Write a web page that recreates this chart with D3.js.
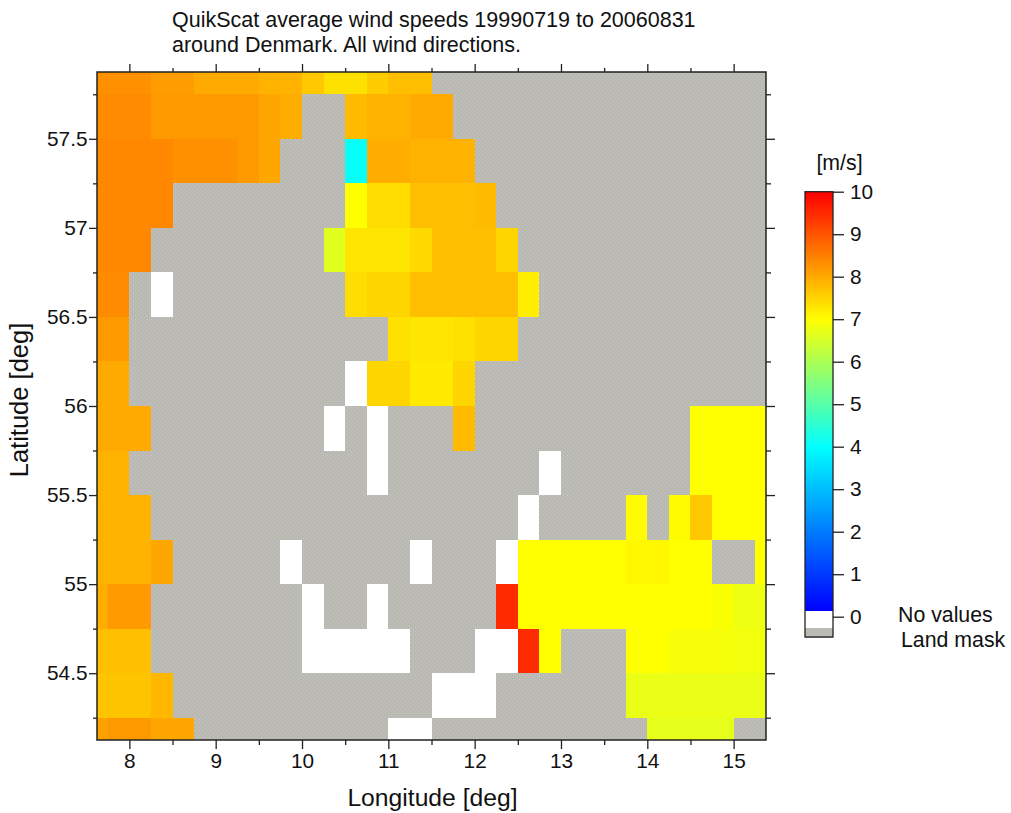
<!DOCTYPE html>
<html>
<head>
<meta charset="utf-8">
<script src="https://cdn.jsdelivr.net/npm/d3@7"></script>
<style>
  html, body { margin: 0; background: #fff; }
  text { font-family: "Liberation Sans", Arial, sans-serif; fill: #111; }
</style>
</head>
<body>
<svg id="chart" width="1011" height="813"></svg>
<script>
// L = land mask, N = no values
const L = -0.4, N = 0;

const titleLines = ['QuikScat average wind speeds 19990719 to 20060831', 'around Denmark. All wind directions.'];
const xTicks = [8, 9, 10, 11, 12, 13, 14, 15];
const yTicks = [54.5, 55, 55.5, 56, 56.5, 57, 57.5];
const barTicks = [0, 1, 2, 3, 4, 5, 6, 7, 8, 9, 10];

// cell centres, first and last ones are cut by the frame
const lons = d3.range(32).map(i => 7.625 + i * 0.25);
const lats = d3.range(16).map(j => 57.875 - j * 0.25);

// wind speed in m/s, north to south
const speeds = [
  [8.3,8.3,8.3,8.15,8.15,8,8,8,7.9,7.9,7.65,7.35,7.35,7.6,7.75,7.75,L,L,L,L,L,L,L,L,L,L,L,L,L,L,L,L],
  [8.35,8.35,8.35,8.2,8.2,8.2,8.2,8.2,8.05,7.95,L,L,7.8,7.9,7.9,8,8,L,L,L,L,L,L,L,L,L,L,L,L,L,L,L],
  [8.4,8.4,8.4,8.4,8.3,8.3,8.3,8.2,8.05,L,L,L,4.1,7.95,7.95,7.9,7.9,7.9,L,L,L,L,L,L,L,L,L,L,L,L,L,L],
  [8.4,8.4,8.4,8.4,L,L,L,L,L,L,L,L,7,7.4,7.4,7.75,7.75,7.75,7.8,L,L,L,L,L,L,L,L,L,L,L,L,L],
  [8.4,8.4,8.4,L,L,L,L,L,L,L,L,6.65,7.3,7.3,7.3,7.45,7.75,7.75,7.75,7.5,L,L,L,L,L,L,L,L,L,L,L,L],
  [8.35,8.35,L,N,L,L,L,L,L,L,L,L,7.4,7.5,7.5,7.75,7.75,7.75,7.75,7.75,7.2,L,L,L,L,L,L,L,L,L,L,L],
  [8.2,8.2,L,L,L,L,L,L,L,L,L,L,L,L,7.35,7.3,7.3,7.35,7.5,7.5,L,L,L,L,L,L,L,L,L,L,L,L],
  [8,8,L,L,L,L,L,L,L,L,L,L,N,7.5,7.5,7.25,7.25,7.5,L,L,L,L,L,L,L,L,L,L,L,L,L,L],
  [8,8,8,L,L,L,L,L,L,L,L,N,L,N,L,L,L,7.8,L,L,L,L,L,L,L,L,L,L,7,7,7,7],
  [7.9,7.9,L,L,L,L,L,L,L,L,L,L,L,N,L,L,L,L,L,L,L,N,L,L,L,L,L,L,7,7,7,7],
  [7.9,7.9,7.9,L,L,L,L,L,L,L,L,L,L,L,L,L,L,L,L,L,N,L,L,L,L,7.05,L,7.05,7.65,7,7,7],
  [7.9,7.9,7.9,8.05,L,L,L,L,L,N,L,L,L,L,L,N,L,L,L,N,7,7,7,7,7,7.1,7.1,7,7,L,L,7],
  [7.95,8.2,8.2,L,L,L,L,L,L,L,N,L,L,N,L,L,L,L,L,9.5,7,7,7,7,7,7,7,7,7,6.95,6.8,6.8],
  [7.75,7.75,7.75,L,L,L,L,L,L,L,N,N,N,N,N,L,L,L,N,N,9.5,7,L,L,L,7,7,6.9,6.9,6.9,6.85,6.85],
  [7.7,7.7,7.7,7.85,L,L,L,L,L,L,L,L,L,L,L,L,N,N,N,L,L,L,L,L,L,6.75,6.75,6.75,6.75,6.75,6.75,6.75],
  [8.1,8.2,8.2,8.05,8.05,L,L,L,L,L,L,L,L,L,N,N,L,L,L,L,L,L,L,L,L,L,6.7,6.7,6.7,6.7,L,L]
];

const svg = d3.select('#chart');
const frame = { left: 97, right: 766, top: 72, bottom: 740 };

// speckled grey of the land mask
const landPattern = svg.append('defs').append('pattern')
  .attr('id', 'land').attr('width', 4).attr('height', 4)
  .attr('patternUnits', 'userSpaceOnUse');
landPattern.append('rect').attr('width', 4).attr('height', 4).attr('fill', '#b9b9b1');
landPattern.append('rect').attr('x', 1).attr('y', 1).attr('width', 1).attr('height', 1).attr('fill', '#c8c8d0');
landPattern.append('rect').attr('x', 3).attr('y', 3).attr('width', 1).attr('height', 1).attr('fill', '#c8c8d0');

const x = d3.scaleLinear().domain([7.625, 15.375]).range([frame.left, frame.right]).clamp(true);
const y = d3.scaleLinear().domain([54.125, 57.875]).range([frame.bottom, frame.top]).clamp(true);

const color = d3.scaleLinear()
  .domain([0.15, 4, 7, 10])
  .range(['#0000ff', '#00ffff', '#ffff00', '#ff0000'])
  .interpolate(d3.interpolateRgb);

function fillFor(v) {
  if (v < -0.25) return 'url(#land)';
  if (v < 0.15) return '#fff';
  return color(v);
}

// grid cells
const cells = speeds.flatMap((row, j) => row.map((v, i) => ({ lon: lons[i], lat: lats[j], v })));
svg.append('g').attr('shape-rendering', 'crispEdges')
  .selectAll('rect').data(cells).join('rect')
  .attr('x', d => x(d.lon - 0.125))
  .attr('y', d => y(d.lat + 0.125))
  .attr('width', d => x(d.lon + 0.125) - x(d.lon - 0.125))
  .attr('height', d => y(d.lat - 0.125) - y(d.lat + 0.125))
  .attr('fill', d => fillFor(d.v));

// frame
svg.append('rect')
  .attr('x', frame.left).attr('y', frame.top)
  .attr('width', frame.right - frame.left).attr('height', frame.bottom - frame.top)
  .attr('fill', 'none').attr('stroke', '#222').attr('stroke-width', 1.5);

const fontSize = 20.8;
const xMinor = d3.range(8.5, 15.5, 1);
const yMinor = d3.range(54.25, 57.85, 0.5);

function styleAxis(g) {
  g.select('.domain').remove();
  g.selectAll('.tick line').attr('stroke', '#222').attr('stroke-width', 1.3);
  g.selectAll('.tick text').attr('font-size', fontSize);
}

// outer ticks on all sides
svg.append('g').attr('transform', `translate(0,${frame.bottom})`)
  .call(d3.axisBottom(x).tickValues(xTicks).tickSize(9).tickPadding(4).tickFormat(d3.format('d')))
  .call(styleAxis);
svg.append('g').attr('transform', `translate(0,${frame.bottom})`)
  .call(d3.axisBottom(x).tickValues(xMinor).tickSize(5).tickFormat(''))
  .call(styleAxis);
svg.append('g').attr('transform', `translate(0,${frame.top})`)
  .call(d3.axisTop(x).tickValues(xTicks).tickSize(8).tickFormat(''))
  .call(styleAxis);
svg.append('g').attr('transform', `translate(0,${frame.top})`)
  .call(d3.axisTop(x).tickValues(xMinor).tickSize(4).tickFormat(''))
  .call(styleAxis);

svg.append('g').attr('transform', `translate(${frame.left},0)`)
  .call(d3.axisLeft(y).tickValues(yTicks).tickSize(8).tickPadding(1.5).tickFormat(d => String(d)))
  .call(styleAxis);
svg.append('g').attr('transform', `translate(${frame.left},0)`)
  .call(d3.axisLeft(y).tickValues(yMinor).tickSize(4).tickFormat(''))
  .call(styleAxis);
svg.append('g').attr('transform', `translate(${frame.right},0)`)
  .call(d3.axisRight(y).tickValues(yTicks).tickSize(9).tickFormat(''))
  .call(styleAxis);
svg.append('g').attr('transform', `translate(${frame.right},0)`)
  .call(d3.axisRight(y).tickValues(yMinor).tickSize(5).tickFormat(''))
  .call(styleAxis);

// titles
svg.append('g').selectAll('text').data(titleLines).join('text')
  .attr('x', 172).attr('y', (d, i) => 27 + i * 25)
  .attr('font-size', 21.5)
  .text(d => d);

svg.append('text').attr('x', 432.5).attr('y', 806)
  .attr('text-anchor', 'middle').attr('font-size', 24.7)
  .text('Longitude [deg]');
svg.append('text')
  .attr('transform', 'translate(28,400) rotate(-90)')
  .attr('text-anchor', 'middle').attr('font-size', 25.5)
  .text('Latitude [deg]');

// colour bar
const barX = 805, barW = 28;
const barY = d3.scaleLinear().domain([0, 10]).range([616.7, 191.7]);
const barBottom = 637;
const barSteps = d3.range(-0.5, 10, 0.025);
svg.append('g').attr('shape-rendering', 'crispEdges')
  .selectAll('rect').data(barSteps).join('rect')
  .attr('x', barX).attr('width', barW)
  .attr('y', d => barY(d + 0.025))
  .attr('height', d => barY(d) - barY(d + 0.025) + 0.5)
  .attr('fill', d => fillFor(d + 0.0125));
svg.append('rect')
  .attr('x', barX).attr('y', barY(10))
  .attr('width', barW).attr('height', barBottom - barY(10))
  .attr('fill', 'none').attr('stroke', '#222').attr('stroke-width', 1.3);

svg.append('g').attr('transform', `translate(${barX + barW},0)`)
  .call(d3.axisRight(barY).tickValues(barTicks).tickSize(11).tickPadding(6).tickFormat(d3.format('d')))
  .call(styleAxis);

svg.append('text').attr('x', 839.5).attr('y', 170)
  .attr('text-anchor', 'middle').attr('font-size', 21.3)
  .text('[m/s]');
svg.append('text').attr('x', 898).attr('y', 621.5).attr('font-size', 21.3).text('No values');
svg.append('text').attr('x', 901).attr('y', 647).attr('font-size', 21.3).text('Land mask');
</script>
</body>
</html>
